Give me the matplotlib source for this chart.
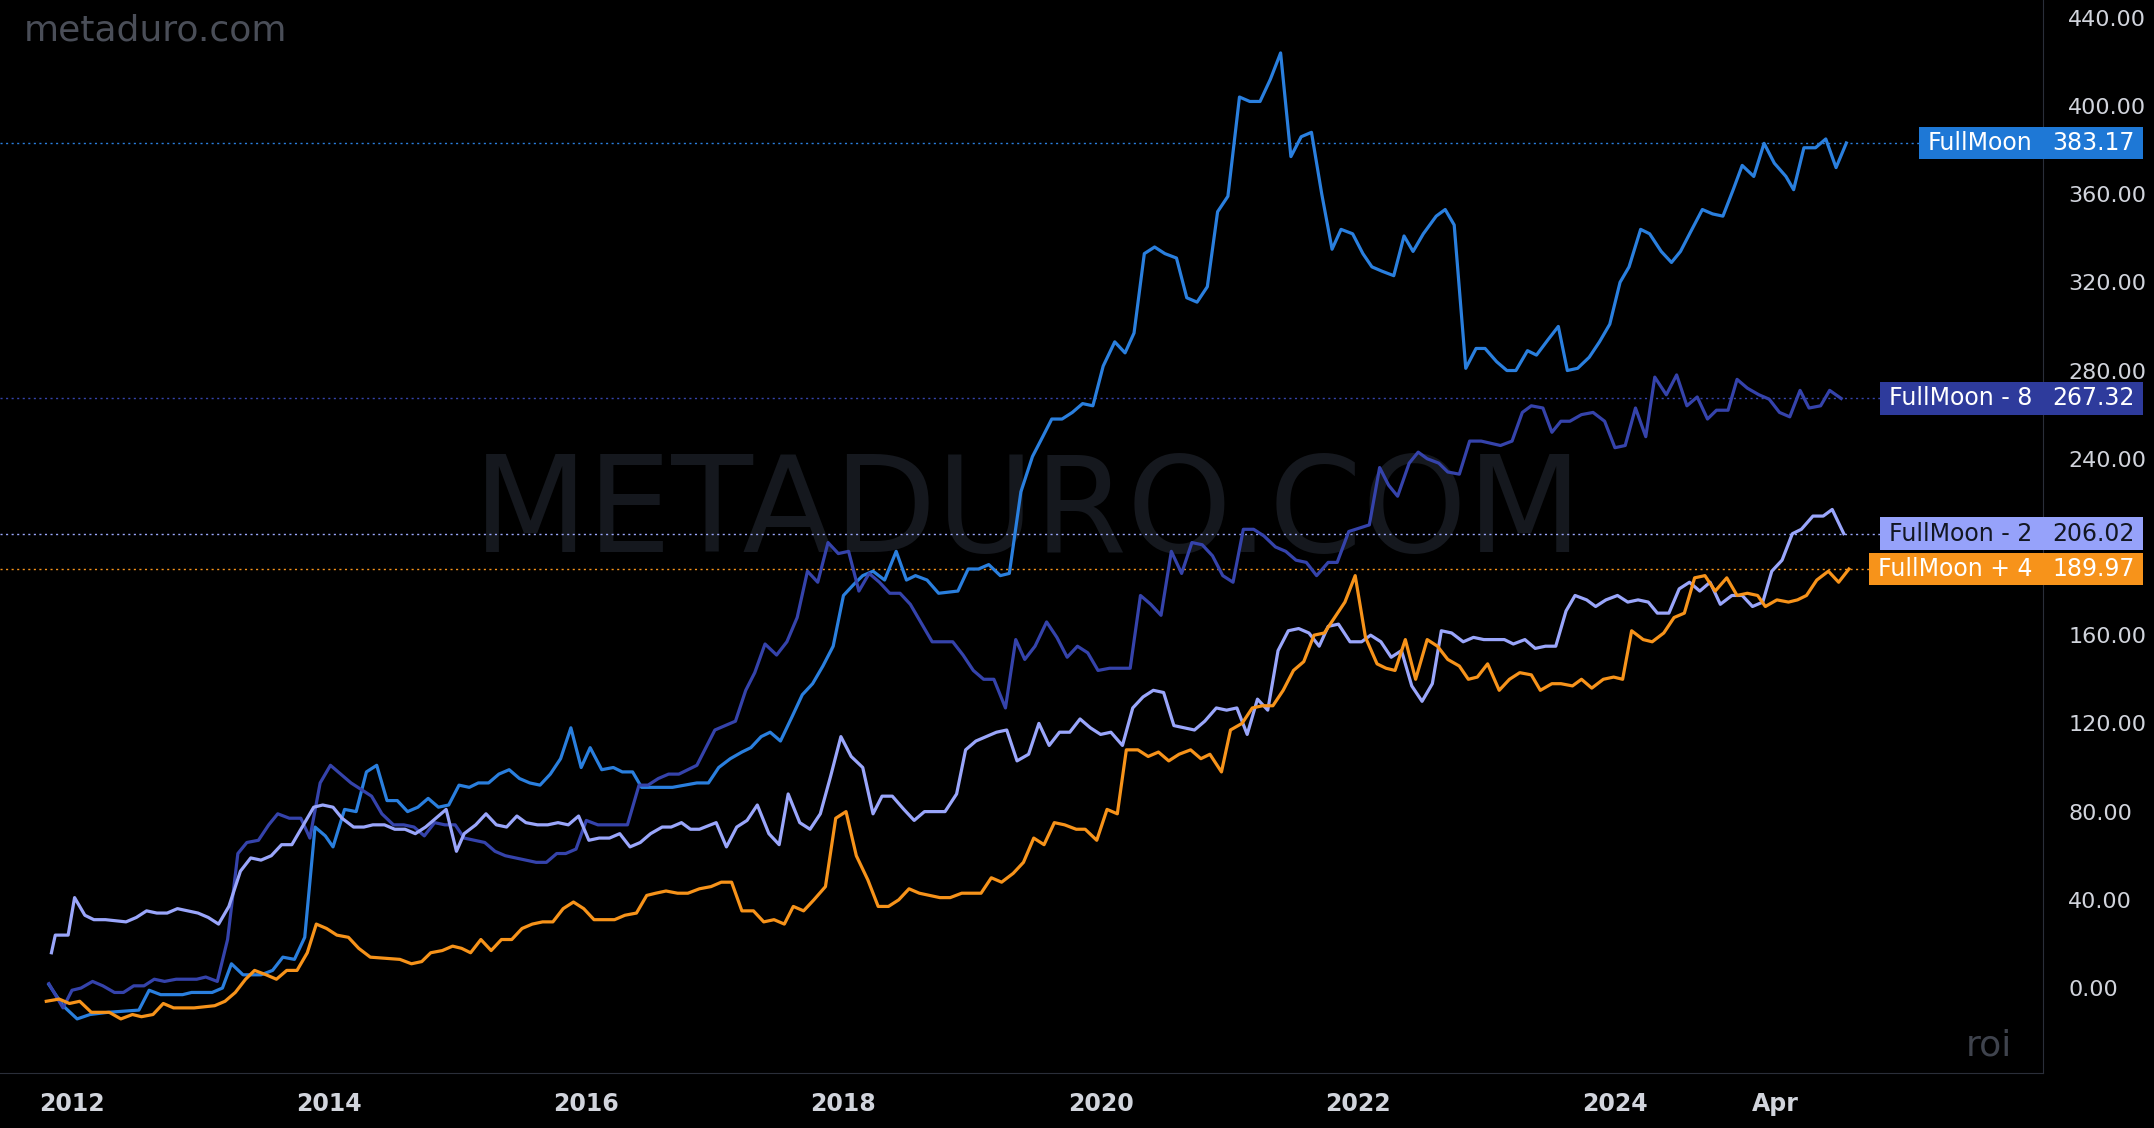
import matplotlib
matplotlib.use("Agg")
import matplotlib.pyplot as plt
from matplotlib.patches import Rectangle

# ---- data (fractional years, roi values) ----
fm_x = [2011.82,2011.93,2012.04,2012.14,2012.28,2012.52,2012.6,2012.69,2012.86,2012.93,2013.09,2013.17,2013.24,2013.33,2013.47,2013.56,2013.64,2013.73,2013.81,2013.89,2013.97,2014.03,2014.12,2014.21,2014.29,2014.37,2014.45,2014.53,2014.61,2014.69,2014.77,2014.85,2014.93,2015.01,2015.09,2015.16,2015.24,2015.32,2015.4,2015.48,2015.56,2015.64,2015.72,2015.8,2015.88,2015.96,2016.03,2016.12,2016.21,2016.28,2016.36,2016.43,2016.52,2016.67,2016.86,2016.95,2017.03,2017.12,2017.21,2017.28,2017.36,2017.43,2017.51,2017.6,2017.68,2017.76,2017.84,2017.92,2018.0,2018.08,2018.15,2018.23,2018.32,2018.41,2018.49,2018.56,2018.65,2018.74,2018.89,2018.97,2019.05,2019.13,2019.22,2019.29,2019.38,2019.47,2019.55,2019.62,2019.7,2019.78,2019.86,2019.94,2020.02,2020.11,2020.19,2020.26,2020.34,2020.42,2020.5,2020.59,2020.67,2020.75,2020.83,2020.91,2020.99,2021.08,2021.16,2021.24,2021.32,2021.4,2021.48,2021.56,2021.64,2021.72,2021.8,2021.87,2021.96,2022.04,2022.11,2022.19,2022.28,2022.36,2022.43,2022.51,2022.61,2022.68,2022.75,2022.84,2022.92,2022.99,2023.08,2023.16,2023.23,2023.32,2023.39,2023.48,2023.56,2023.63,2023.71,2023.8,2023.88,2023.96,2024.04,2024.11,2024.2,2024.27,2024.36,2024.44,2024.51,2024.59,2024.68,2024.76,2024.84,2024.92,2024.99,2025.08,2025.16,2025.24,2025.33,2025.39,2025.47,2025.56,2025.64,2025.72,2025.8]
fm_y = [1.6,-8,-14,-12,-11,-10,-1,-3,-3,-2,-2,0,11,6,6,8,14,13,23,73,69,64,81,80,98,101,85,85,80,82,86,82,83,92,91,93,93,97,99,95,93,92,97,104,118,100,109,99,100,98,98,91,91,91,93,93,100,104,107,109,114,116,112,123,133,138,146,155,178,183,187,189,185,198,185,187,185,179,180,190,190,192,187,188,225,241,250,258,258,261,265,264,282,293,288,297,333,336,333,331,313,311,318,352,359,404,402,402,412,424,377,386,388,360,335,344,342,333,327,325,323,341,334,342,350,353,346,281,290,290,284,280,280,289,287,294,300,280,281,286,293,301,320,327,344,342,334,329,334,343,353,351,350,362,373,368,383,374,368,362,381,381,385,372,383.17]

fm8_x = [2011.82,2011.93,2012.0,2012.07,2012.16,2012.24,2012.33,2012.4,2012.48,2012.56,2012.64,2012.72,2012.81,2012.97,2013.04,2013.13,2013.21,2013.29,2013.36,2013.45,2013.53,2013.6,2013.69,2013.78,2013.85,2013.93,2014.01,2014.09,2014.17,2014.25,2014.33,2014.41,2014.5,2014.58,2014.66,2014.74,2014.82,2014.9,2014.98,2015.05,2015.21,2015.29,2015.37,2015.45,2015.53,2015.61,2015.69,2015.77,2015.84,2015.92,2016.0,2016.09,2016.24,2016.32,2016.41,2016.48,2016.56,2016.64,2016.72,2016.86,2017.0,2017.08,2017.16,2017.24,2017.31,2017.39,2017.48,2017.56,2017.64,2017.72,2017.8,2017.88,2017.96,2018.04,2018.12,2018.2,2018.28,2018.36,2018.44,2018.52,2018.6,2018.69,2018.77,2018.85,2018.93,2019.01,2019.09,2019.17,2019.26,2019.34,2019.41,2019.49,2019.58,2019.66,2019.74,2019.82,2019.9,2019.98,2020.07,2020.15,2020.23,2020.31,2020.39,2020.47,2020.55,2020.63,2020.71,2020.79,2020.87,2020.95,2021.03,2021.11,2021.19,2021.27,2021.36,2021.44,2021.52,2021.6,2021.68,2021.77,2021.84,2021.93,2022.09,2022.17,2022.24,2022.31,2022.4,2022.47,2022.54,2022.63,2022.7,2022.79,2022.87,2022.96,2023.11,2023.2,2023.28,2023.35,2023.44,2023.51,2023.58,2023.65,2023.74,2023.83,2023.92,2024.0,2024.08,2024.16,2024.24,2024.31,2024.4,2024.48,2024.56,2024.64,2024.72,2024.79,2024.88,2024.95,2025.03,2025.12,2025.2,2025.28,2025.36,2025.44,2025.51,2025.6,2025.67,2025.76]
fm8_y = [2,-9,-1,0,3,1,-2,-2,1,1,4,3,4,4,5,3,22,61,66,67,74,79,77,77,68,93,101,97,93,90,87,79,74,74,73,69,75,74,74,68,66,62,60,59,58,57,57,61,61,63,76,74,74,74,92,92,95,97,97,101,117,119,121,135,143,156,151,157,168,189,184,202,197,198,180,188,184,179,179,174,166,157,157,157,151,144,140,140,127,158,149,155,166,159,150,155,152,144,145,145,145,178,174,169,198,188,202,201,196,187,184,208,208,205,200,198,194,193,187,193,193,207,210,236,228,223,238,243,240,238,234,233,248,248,246,248,261,264,263,252,257,257,260,261,257,245,246,263,250,277,269,278,264,268,258,262,262,276,272,269,267,261,259,271,263,264,271,267.32]

fm2_x = [2011.84,2011.87,2011.97,2012.02,2012.1,2012.17,2012.26,2012.42,2012.5,2012.58,2012.66,2012.74,2012.82,2012.9,2012.98,2013.06,2013.14,2013.22,2013.31,2013.39,2013.47,2013.55,2013.63,2013.71,2013.79,2013.88,2013.95,2014.03,2014.1,2014.19,2014.27,2014.34,2014.43,2014.51,2014.59,2014.67,2014.75,2014.83,2014.91,2014.99,2015.05,2015.14,2015.22,2015.3,2015.38,2015.46,2015.53,2015.62,2015.7,2015.78,2015.86,2015.94,2016.02,2016.1,2016.18,2016.26,2016.34,2016.42,2016.5,2016.59,2016.66,2016.74,2016.81,2016.88,2017.01,2017.09,2017.17,2017.25,2017.33,2017.42,2017.5,2017.57,2017.66,2017.74,2017.82,2017.9,2017.98,2018.06,2018.15,2018.23,2018.3,2018.38,2018.47,2018.55,2018.63,2018.79,2018.88,2018.95,2019.03,2019.11,2019.19,2019.27,2019.35,2019.44,2019.52,2019.6,2019.68,2019.76,2019.84,2019.92,2020.0,2020.08,2020.17,2020.25,2020.33,2020.41,2020.49,2020.57,2020.65,2020.73,2020.81,2020.9,2020.98,2021.06,2021.14,2021.22,2021.3,2021.38,2021.46,2021.54,2021.62,2021.7,2021.77,2021.85,2021.94,2022.03,2022.1,2022.18,2022.26,2022.34,2022.42,2022.5,2022.58,2022.65,2022.73,2022.82,2022.9,2022.98,2023.05,2023.14,2023.21,2023.3,2023.38,2023.46,2023.54,2023.62,2023.69,2023.78,2023.85,2023.93,2024.02,2024.1,2024.18,2024.26,2024.33,2024.42,2024.5,2024.58,2024.66,2024.74,2024.82,2024.91,2024.99,2025.07,2025.15,2025.22,2025.3,2025.38,2025.45,2025.54,2025.62,2025.69,2025.78]
fm2_y = [16,24,24,41,33,31,31,30,32,35,34,34,36,35,34,32,29,37,53,59,58,60,65,65,73,82,83,82,77,73,73,74,74,72,72,70,73,77,81,62,70,74,79,74,73,78,75,74,74,75,74,78,67,68,68,70,64,66,70,73,73,75,72,72,75,64,73,76,83,70,65,88,75,72,79,96,114,105,100,79,87,87,81,76,80,80,88,108,112,114,116,117,103,106,120,110,116,116,122,118,115,116,110,127,132,135,134,119,118,117,121,127,126,127,115,131,126,153,162,163,161,155,164,165,157,157,160,157,150,153,137,130,138,162,161,157,159,158,158,158,156,158,154,155,155,171,178,176,173,176,178,175,176,175,170,170,181,184,180,184,174,178,178,173,175,189,194,206,208,214,214,217,206.02]

fm4_x = [2011.8,2011.9,2011.98,2012.06,2012.15,2012.29,2012.38,2012.47,2012.54,2012.63,2012.71,2012.79,2012.86,2012.95,2013.11,2013.19,2013.27,2013.35,2013.42,2013.51,2013.59,2013.67,2013.75,2013.83,2013.9,2013.98,2014.06,2014.15,2014.23,2014.32,2014.55,2014.64,2014.72,2014.79,2014.88,2014.96,2015.03,2015.1,2015.18,2015.26,2015.34,2015.42,2015.5,2015.58,2015.66,2015.74,2015.82,2015.9,2015.98,2016.06,2016.22,2016.3,2016.39,2016.47,2016.54,2016.62,2016.71,2016.79,2016.88,2016.97,2017.05,2017.13,2017.21,2017.3,2017.38,2017.46,2017.54,2017.61,2017.69,2017.77,2017.86,2017.94,2018.02,2018.1,2018.19,2018.27,2018.35,2018.43,2018.51,2018.59,2018.75,2018.83,2018.92,2019.0,2019.07,2019.15,2019.23,2019.32,2019.4,2019.48,2019.56,2019.64,2019.72,2019.81,2019.88,2019.97,2020.05,2020.13,2020.2,2020.29,2020.37,2020.45,2020.53,2020.61,2020.7,2020.78,2020.85,2020.94,2021.01,2021.1,2021.18,2021.26,2021.34,2021.42,2021.5,2021.58,2021.66,2021.74,2021.82,2021.9,2021.98,2022.06,2022.15,2022.22,2022.29,2022.37,2022.45,2022.54,2022.62,2022.7,2022.79,2022.86,2022.93,2023.01,2023.1,2023.18,2023.26,2023.35,2023.42,2023.51,2023.58,2023.67,2023.74,2023.82,2023.91,2023.99,2024.06,2024.13,2024.22,2024.29,2024.38,2024.46,2024.54,2024.62,2024.7,2024.78,2024.87,2024.95,2025.03,2025.11,2025.17,2025.26,2025.35,2025.42,2025.49,2025.57,2025.66,2025.74,2025.82]
fm4_y = [-6,-5,-7,-6,-11,-11,-14,-12,-13,-12,-7,-9,-9,-9,-8,-6,-2,4,8,6,4,8,8,16,29,27,24,23,18,14,13,11,12,16,17,19,18,16,22,17,22,22,27,29,30,30,36,39,36,31,31,33,34,42,43,44,43,43,45,46,48,48,35,35,30,31,29,37,35,40,46,77,80,60,49,37,37,40,45,43,41,41,43,43,43,50,48,52,57,68,65,75,74,72,72,67,81,79,108,108,105,107,103,106,108,104,106,98,117,120,127,128,128,135,144,148,160,161,168,175,187,159,147,145,144,158,140,158,155,149,146,140,141,147,135,140,143,142,135,138,138,137,140,136,140,141,140,162,158,157,161,168,170,186,187,180,186,178,179,178,173,176,175,176,178,185,189,184,189.97]

series = [
    ("FullMoon", fm_x, fm_y, "#2a7fde", "#1e78d6", "white"),
    ("FullMoon - 8", fm8_x, fm8_y, "#3543ab", "#2e3b9c", "white"),
    ("FullMoon - 2", fm2_x, fm2_y, "#9aa6fb", "#96a2fa", "#131722"),
    ("FullMoon + 4", fm4_x, fm4_y, "#f7931a", "#f7931a", "white"),
]
y_ticks = [0, 40, 80, 120, 160, 240, 280, 320, 360, 400, 440]
x_ticks = [2012, 2014, 2016, 2018, 2020, 2022, 2024, 2025.25]
x_labels = ["2012", "2014", "2016", "2018", "2020", "2022", "2024", "Apr"]

AX_R = 0.9485
fig = plt.figure(figsize=(21.54, 11.28), dpi=100, facecolor="black")
ax = fig.add_axes([0, 0.0488, AX_R, 0.9512], facecolor="black")
ax.set_xlim(2011.44, 2027.33)
ax.set_ylim(-38.5, 448)

for name, xs, ys, lc, bc, tc in series:
    ax.plot(xs, ys, color=lc, lw=2.3, zorder=3)
    ax.axhline(ys[-1], color=lc, lw=1, ls=(0, (1.5, 2.5)), zorder=1)

ax.yaxis.tick_right()
ax.set_yticks(y_ticks)
ax.set_yticklabels([f"{v:.2f}" for v in y_ticks])
ax.set_xticks(x_ticks)
ax.set_xticklabels(x_labels)
ax.tick_params(axis="y", length=0, pad=18, labelsize=16, labelcolor="#d1d4dc")
ax.tick_params(axis="x", length=0, pad=14, labelsize=17, labelcolor="#d1d4dc")
for lab in ax.get_xticklabels():
    lab.set_fontweight("bold")
for s in ["top", "left"]:
    ax.spines[s].set_visible(False)
ax.spines["right"].set_color("#2a2e39")
ax.spines["bottom"].set_color("#2a2e39")

fig.canvas.draw()
renderer = fig.canvas.get_renderer()
H = 0.029
VAL_R = 0.995
for name, xs, ys, lc, bc, tc in series:
    v = ys[-1]
    yf = ax.transData.transform((0, v))[1] / fig.bbox.height
    fig.patches.append(Rectangle((AX_R, yf - H / 2), VAL_R - AX_R, H, transform=fig.transFigure,
                                 fc=bc, ec="none", zorder=5))
    fig.text((AX_R + VAL_R) / 2, yf, f"{v:.2f}", color=tc, fontsize=17, va="center", ha="center", zorder=6)
    t = fig.text(AX_R - 0.005, yf, name, color=tc, fontsize=17, va="center", ha="right", zorder=6)
    ext = t.get_window_extent(renderer)
    x0 = ext.x0 / fig.bbox.width - 0.004
    fig.patches.append(Rectangle((x0, yf - H / 2), AX_R - x0, H, transform=fig.transFigure,
                                 fc=bc, ec="none", zorder=5))

# watermarks
ax.text(0.503, 0.52, "METADURO.COM", transform=ax.transAxes, fontsize=96, color="#15181e",
        ha="center", va="center", zorder=0)
fig.text(0.011, 0.988, "metaduro.com", fontsize=26, color="#4a4e58", ha="left", va="top")
ax.text(0.985, 0.01, "roi", transform=ax.transAxes, fontsize=26, color="#3f434d",
        ha="right", va="bottom")

fig.savefig("out.png", dpi=100, facecolor="black")
